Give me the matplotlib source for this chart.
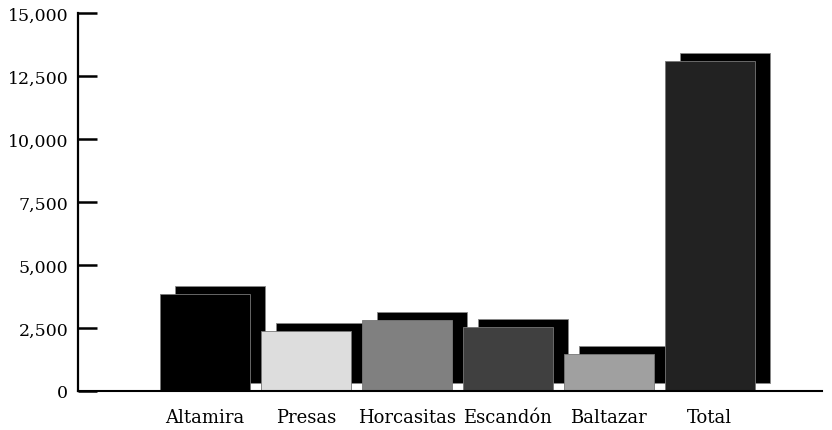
import matplotlib
matplotlib.use("Agg")
import matplotlib.pyplot as plt
from matplotlib.ticker import FuncFormatter

# Data
categorias = ["Altamira", "Presas", "Horcasitas", "Escandón", "Baltazar", "Total"]
valores = [3850, 2370, 2800, 2550, 1470, 13100]
colores = ["#000000", "#dddddd", "#808080", "#404040", "#a0a0a0", "#222222"]
yticks = [0, 2500, 5000, 7500, 10000, 12500, 15000]

plt.rcParams["font.family"] = ["DejaVu Serif"]

W, H = 832, 431
fig = plt.figure(figsize=(W / 100, H / 100), dpi=100)
ax = fig.add_axes([78 / W, (H - 392) / H, (822 - 78) / W, (392 - 14) / H])

x = list(range(len(categorias)))
ancho = 0.896
dx = 0.149   # shadow shift to the right
dy = 317     # shadow lift

# shadows
ax.bar([i + dx for i in x], valores, width=ancho, bottom=dy, color="black",
       edgecolor="#888888", linewidth=0.6, zorder=1)
# front bars
ax.bar(x, valores, width=ancho, color=colores, edgecolor="#777777",
       linewidth=0.6, zorder=2)

ax.set_xlim(-1.257, 6.11)
ax.set_ylim(0, 15000)
ax.set_yticks(yticks)
ax.yaxis.set_major_formatter(FuncFormatter(lambda v, p: f"{int(v):,}"))
ax.set_xticks(x)
ax.set_xticklabels(categorias)

for s in ["top", "right"]:
    ax.spines[s].set_visible(False)
ax.spines["left"].set_linewidth(1.6)
ax.spines["bottom"].set_linewidth(1.5)
ax.spines["bottom"].set_zorder(3)

ax.tick_params(axis="y", direction="in", length=14, width=1.8, labelsize=12.5, pad=7)
ax.tick_params(axis="x", length=0, labelsize=13, pad=12)

fig.savefig("out.png", dpi=100)
